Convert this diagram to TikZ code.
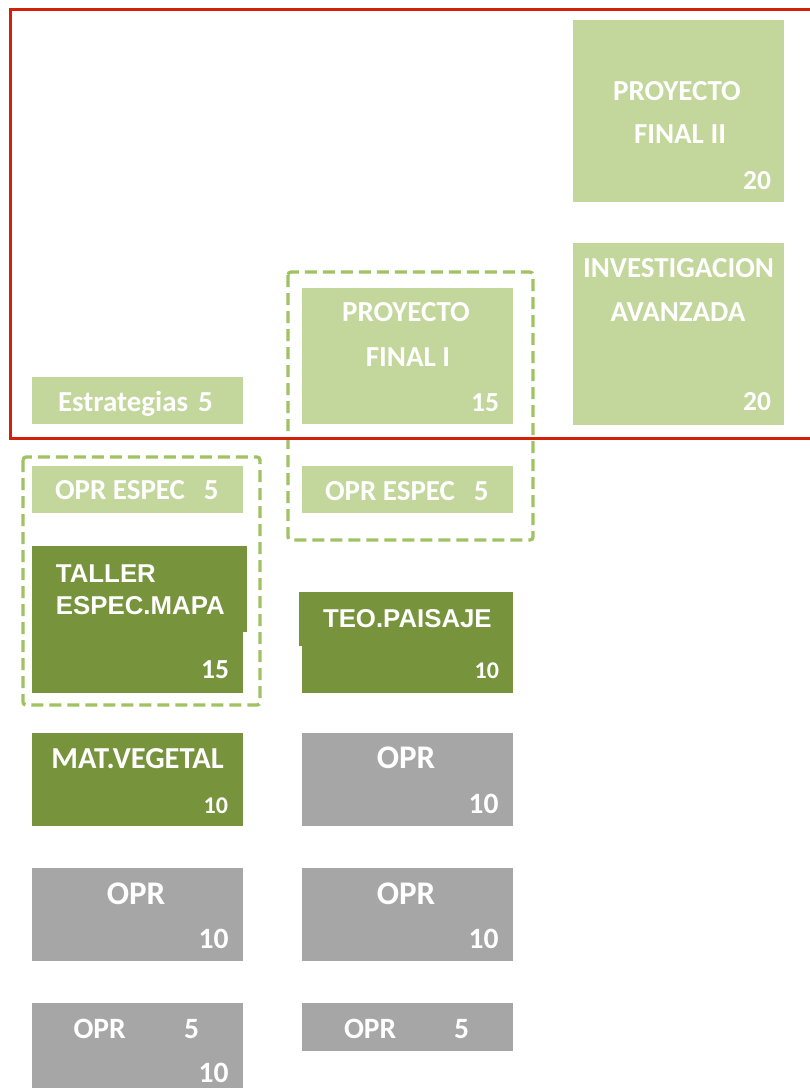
\documentclass[tikz,border=0pt]{standalone}
\usepackage{fontspec}
\setmainfont{Carlito}
\newfontfamily\arialbf{Liberation Sans}
\usepackage{xcolor}
\usepackage{tikz}

\definecolor{verdeclaro}{HTML}{C3D69B}
\definecolor{verdeoscuro}{HTML}{77933C}
\definecolor{grismed}{HTML}{A6A6A6}
\definecolor{rojo}{RGB}{212,32,8}
\definecolor{verdeguion}{RGB}{160,194,98}

\begin{document}
\begin{tikzpicture}[x=1pt,y=-1pt,
    caja/.style={anchor=north west,inner sep=0pt,outer sep=0pt,minimum width=211pt},
    claro/.style={caja,fill=verdeclaro},
    oscuro/.style={caja,fill=verdeoscuro},
    cajagris/.style={caja,fill=grismed},
    txt/.style={text=white,inner sep=0pt,outer sep=0pt,font=\bfseries\fontsize{29}{35}\selectfont},
    txtnum/.style={txt,font=\bfseries\fontsize{27.5}{33}\selectfont},
    txtarial/.style={txt,font=\arialbf\bfseries\fontsize{25.8}{31}\selectfont},
    txtgrande/.style={txt,font=\bfseries\fontsize{33}{40}\selectfont},
    numchico/.style={txt,font=\bfseries\fontsize{24}{29}\selectfont},
    numgrande/.style={txt,font=\bfseries\fontsize{29.5}{35}\selectfont},
    grupo/.style={draw=verdeguion,line width=3.3pt,dash pattern=on 12pt off 6pt,rounded corners=3pt}]
    \useasboundingbox (0,0) rectangle (810,1088);

    % quinto anio
    \node[claro,minimum height=182pt] (pf2) at (573,20) {};
    \node[txt,anchor=base] (pf2-a) at (677,100) {PROYECTO};
    \node[txt,anchor=base] (pf2-b) at (680,143) {FINAL II};
    \node[txtnum,anchor=base east] (pf2-n) at (771,189) {20};

    \node[claro,minimum height=182pt] (inv) at (573,243) {};
    \node[txt,anchor=base] (inv-a) at (678.5,277) {INVESTIGACION};
    \node[txt,anchor=base] (inv-b) at (678,321) {AVANZADA};
    \node[txtnum,anchor=base east] (inv-n) at (771,410) {20};

    \node[claro,minimum height=136pt] (pf1) at (302,288) {};
    \node[txt,anchor=base] (pf1-a) at (406,321) {PROYECTO};
    \node[txt,anchor=base] (pf1-b) at (408,366) {FINAL I};
    \node[txtnum,anchor=base east] (pf1-n) at (499,411) {15};

    \node[claro,minimum height=47pt] (est) at (32,377) {};
    \node[txt,anchor=base west] (est-a) at (58,411) {Estrategias\hspace{10pt}5};

    % especializacion
    \node[claro,minimum height=47pt] (esp1) at (32,466) {};
    \node[txt,anchor=base west] (esp1-a) at (55,499) {OPR ESPEC\hspace{19pt}5};

    \node[claro,minimum height=47pt] (esp2) at (302,466) {};
    \node[txt,anchor=base west] (esp2-a) at (325,500) {OPR ESPEC\hspace{19pt}5};

    \node[oscuro,minimum height=147pt] (taller) at (32,546) {};
    \node[oscuro,minimum width=215pt,minimum height=86pt] (taller-f) at (32,546) {};
    \node[txtarial,anchor=base west] (taller-a) at (56,582) {TALLER};
    \node[txtarial,anchor=base west] (taller-b) at (56,614) {ESPEC.MAPA};
    \node[txtnum,anchor=base east] (taller-n) at (229,678) {15};

    \node[oscuro,minimum height=101pt] (teo) at (302,592) {};
    \node[oscuro,minimum width=214pt,minimum height=54pt] (teo-f) at (299,592) {};
    \node[txtarial,anchor=base west] (teo-a) at (323,627) {TEO.PAISAJE};
    \node[numchico,anchor=base east] (teo-n) at (499,678) {10};

    \node[oscuro,minimum height=93pt] (mat) at (32,733) {};
    \node[txt,anchor=base,font=\bfseries\fontsize{30.5}{36}\selectfont] (mat-a) at (137.5,768) {MAT.VEGETAL};
    \node[numchico,anchor=base east] (mat-n) at (228,813) {10};

    % optativas
    \node[cajagris,minimum height=93pt] (opr1) at (302,733) {};
    \node[txtgrande,anchor=base] (opr1-a) at (406,768) {OPR};
    \node[numgrande,anchor=base east] (opr1-n) at (498.5,813) {10};

    \node[cajagris,minimum height=93pt] (opr2) at (32,868) {};
    \node[txtgrande,anchor=base] (opr2-a) at (136,904) {OPR};
    \node[numgrande,anchor=base east] (opr2-n) at (228.5,948) {10};

    \node[cajagris,minimum height=93pt] (opr3) at (302,868) {};
    \node[txtgrande,anchor=base] (opr3-a) at (406,904) {OPR};
    \node[numgrande,anchor=base east] (opr3-n) at (498.5,948) {10};

    \node[cajagris,minimum height=85pt] (opr4) at (32,1003) {};
    \node[numgrande,anchor=base west] (opr4-a) at (73.5,1038) {OPR};
    \node[numgrande,anchor=base west] (opr4-b) at (184,1038) {5};
    \node[numgrande,anchor=base east] (opr4-n) at (228.5,1082) {10};

    \node[cajagris,minimum height=48pt] (opr5) at (302,1003) {};
    \node[numgrande,anchor=base west] (opr5-a) at (344,1038) {OPR};
    \node[numgrande,anchor=base west] (opr5-b) at (454,1038) {5};

    % marcos
    \draw[grupo] (23,457) rectangle (260,705);
    \draw[grupo] (288,272) rectangle (533,540);
    \draw[rojo,line width=3pt] (812,9) -- (10,9) -- (10,438) -- (812,438);
\end{tikzpicture}
\end{document}
